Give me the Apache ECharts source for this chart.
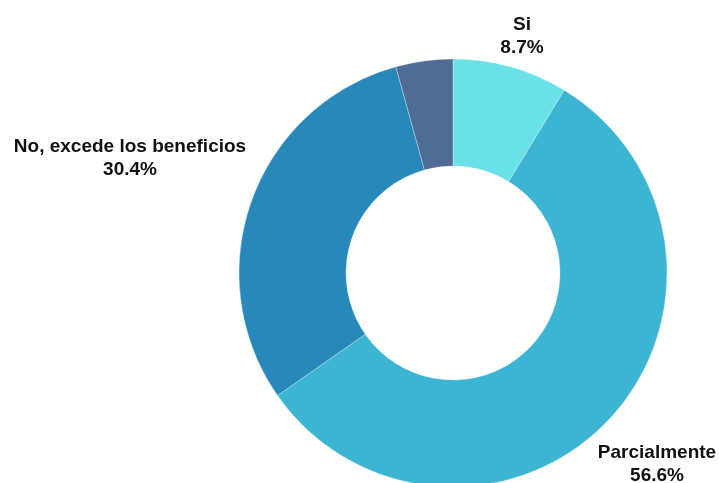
<!DOCTYPE html>
<html>
<head>
<meta charset="utf-8">
<script src="https://cdn.jsdelivr.net/npm/echarts@6/dist/echarts.min.js"></script>
<style>html,body{margin:0;padding:0;background:#fff;}#c{width:719px;height:483px;}</style>
</head>
<body>
<div id="c"></div>
<script>
const categories = ['Si', 'Parcialmente', 'No, excede los beneficios', 'Otro'];
const values = [8.7, 56.6, 30.4, 4.3];
const showLabel = [true, true, true, false];
const colors = ['#6ae1e6', '#3eb4d3', '#2888ba', '#4f6c95'];
const labelPos = [[522, 36], [657, 464], [130, 158], [0, 0]];

const chart = echarts.init(document.getElementById('c'));
chart.setOption({
  animation: false,
  series: [{
    type: 'pie',
    center: [453, 273],
    radius: [107, 214],
    startAngle: 90,
    clockwise: true,
    avoidLabelOverlap: false,
    itemStyle: { borderColor: 'rgba(255,255,255,0.5)', borderWidth: 0.6 },
    label: {
      show: true,
      position: 'outside',
      formatter: p => p.name + '\n' + p.value.toFixed(1) + '%',
      fontFamily: 'Liberation Sans, Arial, sans-serif',
      fontWeight: 'bold',
      fontSize: 19,
      lineHeight: 23,
      color: '#111',
      align: 'center'
    },
    labelLine: { show: false },
    labelLayout: function (p) {
      const pos = labelPos[p.dataIndex];
      return { x: pos[0], y: pos[1], align: 'center', verticalAlign: 'middle' };
    },
    data: categories.map((c, i) => ({
      name: c,
      value: values[i],
      itemStyle: { color: colors[i] },
      label: { show: showLabel[i] }
    }))
  }]
});
</script>
</body>
</html>
